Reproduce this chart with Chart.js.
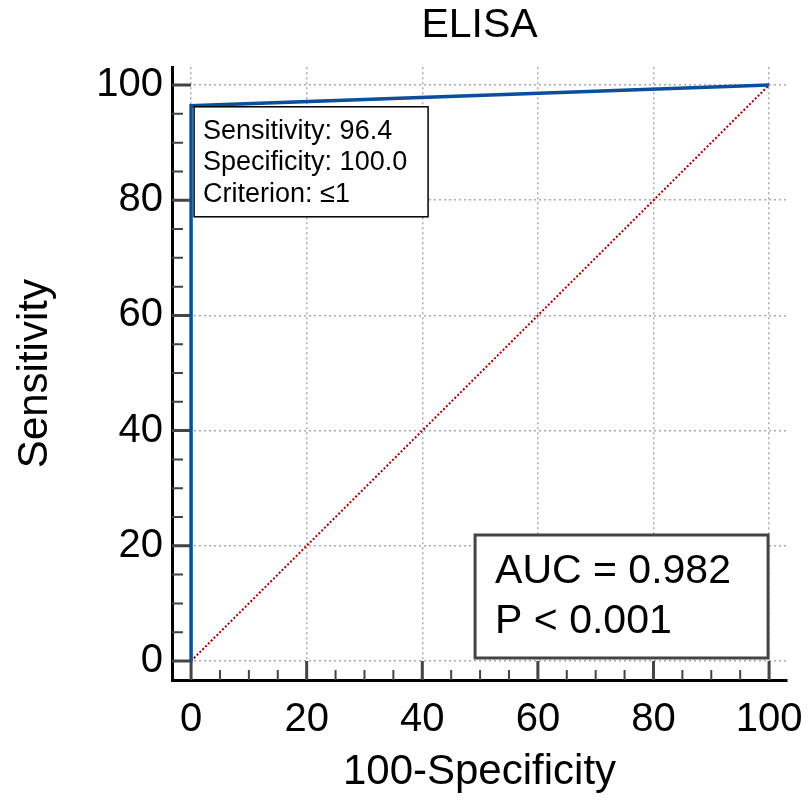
<!DOCTYPE html>
<html>
<head>
<meta charset="utf-8">
<script src="https://cdn.jsdelivr.net/npm/chart.js@4.4.1/dist/chart.umd.min.js"></script>
<style>
  html, body { margin: 0; padding: 0; background: #fff; }
  #wrap { width: 807px; height: 805px; }
</style>
</head>
<body>
<div id="wrap"><canvas id="rocChart" width="807" height="805"></canvas></div>
<script>
// data
const rocX = [0, 0, 100];
const rocY = [0, 96.4, 100];
const refX = [0, 100];
const refY = [0, 100];
const majorTicks = [0, 20, 40, 60, 80, 100];
const minorTicks = [5, 10, 15, 25, 30, 35, 45, 50, 55, 65, 70, 75, 85, 90, 95];
const cutoffText = ['Sensitivity: 96.4', 'Specificity: 100.0', 'Criterion: \u22641'];
const statsText = ['AUC = 0.982', 'P < 0.001'];

const FONT = "'Liberation Sans', Arial, sans-serif";
Chart.defaults.font.family = FONT;
Chart.defaults.color = '#000';

// tick marks sit inside the gap between the axis line and the 0 value
const tickMarks = {
  id: 'tickMarks',
  beforeDatasetsDraw(chart) {
    const { ctx, chartArea: a, scales: { x, y } } = chart;
    const x0 = x.getPixelForValue(0);
    const y0 = y.getPixelForValue(0);
    ctx.save();
    ctx.strokeStyle = '#444';
    ctx.lineWidth = 3;
    ctx.beginPath();
    majorTicks.forEach(v => {
      const py = y.getPixelForValue(v);
      ctx.moveTo(a.left, py); ctx.lineTo(x0, py);
      const px = x.getPixelForValue(v);
      ctx.moveTo(px, a.bottom); ctx.lineTo(px, y0);
    });
    ctx.stroke();
    ctx.lineWidth = 2;
    ctx.beginPath();
    minorTicks.forEach(v => {
      const py = y.getPixelForValue(v);
      ctx.moveTo(a.left, py); ctx.lineTo(a.left + 11, py);
      const px = x.getPixelForValue(v);
      ctx.moveTo(px, a.bottom); ctx.lineTo(px, a.bottom - 10);
    });
    ctx.stroke();
    ctx.restore();
  }
};

const infoBoxes = {
  id: 'infoBoxes',
  afterDatasetsDraw(chart) {
    const { ctx, scales: { x, y } } = chart;
    ctx.save();

    // cut-off point box
    let left = x.getPixelForValue(0) + 3;
    let top = y.getPixelForValue(rocY[1]) + 1;
    ctx.fillStyle = '#fff';
    ctx.fillRect(left, top, 234, 110);
    ctx.strokeStyle = '#000';
    ctx.lineWidth = 1.5;
    ctx.strokeRect(left, top, 234, 110);
    ctx.fillStyle = '#000';
    ctx.font = '27px ' + FONT;
    ctx.textBaseline = 'alphabetic';
    cutoffText.forEach((t, i) => ctx.fillText(t, left + 9, top + 32 + i * 31.5));

    // AUC box
    const right = x.getPixelForValue(100) - 1;
    const bottom = y.getPixelForValue(0) - 3;
    left = right - 293;
    top = bottom - 123;
    ctx.fillStyle = '#fff';
    ctx.fillRect(left, top, 293, 123);
    ctx.strokeStyle = '#444';
    ctx.lineWidth = 3;
    ctx.strokeRect(left, top, 293, 123);
    ctx.fillStyle = '#000';
    ctx.font = '41px ' + FONT;
    statsText.forEach((t, i) => ctx.fillText(t, left + 20, top + 48 + i * 50));

    ctx.restore();
  }
};

const ctx = document.getElementById('rocChart').getContext('2d');
const rocChart = new Chart(ctx, {
  type: 'scatter',
  data: {
    datasets: [{
      label: 'ROC',
      data: rocX.map((v, i) => ({ x: v, y: rocY[i] })),
      showLine: true,
      borderColor: '#0b4f9c',
      borderWidth: 3.5,
      pointRadius: 0,
      order: 0
    }, {
      label: 'Reference',
      data: refX.map((v, i) => ({ x: v, y: refY[i] })),
      showLine: true,
      borderColor: '#a00000',
      borderWidth: 2,
      borderDash: [2, 2],
      pointRadius: 0,
      order: 1
    }]
  },
  options: {
    responsive: false,
    animation: false,
    devicePixelRatio: 1,
    layout: { padding: { left: 0, right: 20, top: 0, bottom: 0 } },
    plugins: {
      legend: { display: false },
      tooltip: { enabled: false },
      title: {
        display: true,
        fullSize: false,
        text: 'ELISA',
        color: '#000',
        font: { size: 41, weight: 'normal' },
        padding: { top: 1, bottom: 17 }
      }
    },
    scales: {
      x: {
        type: 'linear',
        min: -3.3,
        max: 103.1,
        afterBuildTicks: s => { s.ticks = majorTicks.map(v => ({ value: v })); },
        afterFit: s => { s.height = 125; s.paddingLeft = 0; s.paddingRight = 0; },
        grid: { color: '#aaa', lineWidth: 1.5, drawTicks: false },
        border: { display: true, color: '#000', width: 3, dash: [2, 3] },
        ticks: { color: '#000', font: { size: 40 }, padding: 16, maxRotation: 0 },
        title: {
          display: true, text: '100-Specificity', color: '#000',
          font: { size: 42 }, padding: { top: 0, bottom: 7 }
        }
      },
      y: {
        type: 'linear',
        min: -3.3,
        max: 103.1,
        afterBuildTicks: s => { s.ticks = majorTicks.map(v => ({ value: v })); },
        afterFit: s => { s.width = 172; s.paddingTop = 0; s.paddingBottom = 0; },
        grid: { color: '#aaa', lineWidth: 1.5, drawTicks: false },
        border: { display: true, color: '#000', width: 3, dash: [2, 3] },
        ticks: { color: '#000', font: { size: 40 }, padding: 9 },
        title: {
          display: true, text: 'Sensitivity', color: '#000',
          font: { size: 42 }, padding: { top: 10, bottom: 0 }
        }
      }
    }
  },
  plugins: [tickMarks, infoBoxes]
});
</script>
</body>
</html>
